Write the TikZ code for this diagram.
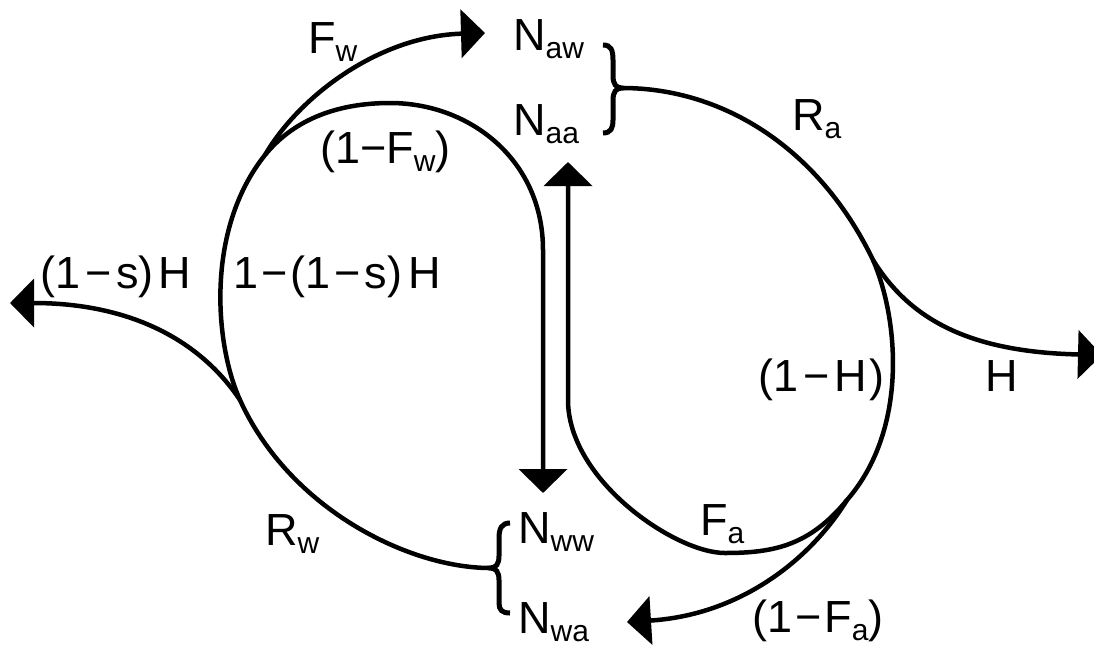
\documentclass[tikz,border=0pt]{standalone}
\usepackage{fontspec}
\setmainfont{Liberation Sans}
\usetikzlibrary{arrows.meta}
\newcommand\sbx[1]{\raisebox{-8pt}{\fontsize{30}{30}\selectfont #1}}
\newcommand\mns[1]{\kern#1pt−\kern#1pt}
\begin{document}
\begin{tikzpicture}[x=1pt,y=-1pt,
  flow/.style={line width=4.5pt},
  arr/.style={flow,-{Triangle[length=24pt,width=48pt]}},
  bracestroke/.style={line width=5pt},
  lbl/.style={inner sep=0pt,anchor=base west,font=\fontsize{45}{50}\selectfont}]
\useasboundingbox (0,0) rectangle (1094,648);
% text nodes
\node[lbl] (naw) at (513,50) {N\sbx{aw}};
\node[lbl] (naa) at (513,135) {N\sbx{aa}};
\node[lbl] (nww) at (518,543) {N\sbx{ww}};
\node[lbl] (nwa) at (518,633) {N\sbx{wa}};
\node[lbl] (lfw) at (308,53) {F\sbx{w}};
\node[lbl] (l1fw) at (320,163) {(1−F\sbx{w})};
\node[lbl] (lsh) at (40,288) {(1\mns{5}s)\kern5pt H};
\node[lbl] (l1sh) at (233,288) {1\mns{3}(1\mns{4}s)\kern6pt H};
\node[lbl] (lra) at (792,130) {R\sbx{a}};
\node[lbl] (l1h) at (758,391) {(1\mns{5}H\kern3pt)};
\node[lbl] (lh) at (985,391) {H};
\node[lbl] (lrw) at (265,545) {R\sbx{w}};
\node[lbl] (lfa) at (700,535) {F\sbx{a}};
\node[lbl] (l1fa) at (752,632) {(1\mns{3}F\sbx{a})};
% junctions and tips
\coordinate (bA) at (622,88);
\coordinate (bW) at (490,568);
\coordinate (jW1) at (240,400);
\coordinate (jW2) at (265,155);
\coordinate (jA1) at (873,260);
\coordinate (jA2) at (847,500);
\coordinate (tFw) at (485,33);
\coordinate (tSH) at (10,303);
\coordinate (tDown) at (543,493);
\coordinate (tUp) at (568,162);
\coordinate (tH) at (1102,355);
\coordinate (tFa) at (627,622);
% braces
\draw[bracestroke] (603,45) .. controls (611,45) and (613,50) .. (613,60) -- (613,76)
  .. controls (613,84) and (616,88) .. (bA) .. controls (616,88) and (613,92) .. (613,100)
  -- (613,120) .. controls (613,128) and (611,133) .. (603,133);
\draw[bracestroke] (510,523) .. controls (502,523) and (499,528) .. (499,538) -- (499,556)
  .. controls (499,564) and (496,568) .. (bW) .. controls (496,568) and (499,572) .. (499,580)
  -- (499,603) .. controls (499,610) and (502,613) .. (510,613);
% W loop
\draw[arr] (bW) .. controls (410,568) and (290,510) .. (jW1)
  .. controls (215,345) and (205,230) .. (jW2)
  .. controls (295,118) and (340,103) .. (390,103)
  .. controls (470,103) and (543,160) .. (543,250) -- (tDown);
\draw[arr] (jW2) .. controls (300,95) and (380,36) .. (tFw);
\draw[arr] (jW1) .. controls (200,340) and (130,303) .. (tSH);
% A loop
\draw[arr] (bA) .. controls (725,88) and (820,150) .. (jA1)
  .. controls (899,320) and (908,430) .. (jA2)
  .. controls (810,545) and (775,553) .. (725,553)
  .. controls (675,553) and (568,480) .. (568,400) -- (tUp);
\draw[arr] (jA1) .. controls (910,320) and (970,352) .. (tH);
\draw[arr] (jA2) .. controls (810,560) and (740,615) .. (tFa);
\end{tikzpicture}
\end{document}
